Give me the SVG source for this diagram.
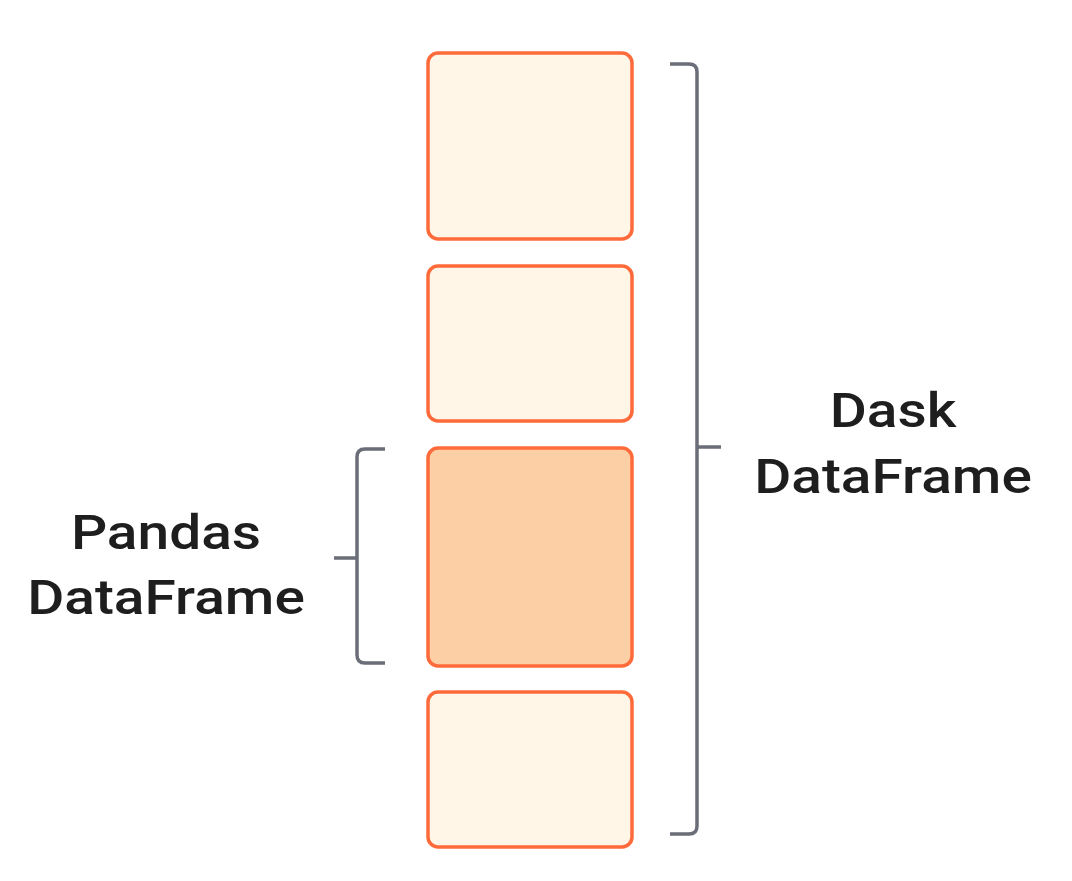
<svg xmlns="http://www.w3.org/2000/svg" width="1072" height="881" viewBox="0 0 1072 881">
<style>
.box{fill:#FFF6E8;stroke:#FF6A3A;stroke-width:3.5}
.sel{fill:#FCD0A4}
.br{fill:none;stroke:#6B6D78;stroke-width:3.5;stroke-linecap:butt;stroke-linejoin:round}
.lbl{font-family:Roboto,"Liberation Sans",sans-serif;font-weight:500;font-size:48px;fill:#1E1E1E;text-anchor:middle}
</style>
<rect width="1072" height="881" fill="#FFFFFF"/>
<g id="partition1"><rect class="box" x="428" y="53" width="204" height="186" rx="10"/></g>
<g id="partition2"><rect class="box" x="428" y="266" width="204" height="155" rx="10"/></g>
<g id="partition3"><rect class="box sel" x="428" y="448" width="204" height="218" rx="10"/></g>
<g id="partition4"><rect class="box" x="428" y="692" width="204" height="155" rx="10"/></g>
<g id="connectors">
<path class="br" d="M670 64 H689 Q697 64 697 72 V826 Q697 834 689 834 H670 M697 447 H721"/>
<path class="br" d="M385 449 H365 Q357 449 357 457 V655 Q357 663 365 663 H385 M357 558 H334"/>
</g>
<g id="dask-label" transform="translate(893 0) scale(1.185 1)"><text class="lbl" x="0" y="427">Dask</text><text class="lbl" x="0" y="493">DataFrame</text></g>
<g id="pandas-label" transform="translate(166 0) scale(1.185 1)"><text class="lbl" x="0" y="549">Pandas</text><text class="lbl" x="0" y="614">DataFrame</text></g>
</svg>
